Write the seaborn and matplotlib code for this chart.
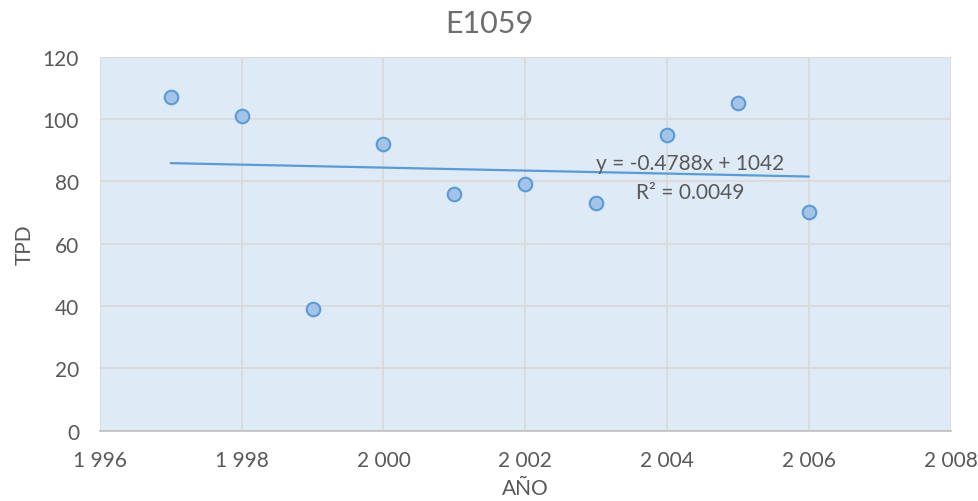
import numpy as np
import pandas as pd
import matplotlib
matplotlib.use("Agg")
import matplotlib.pyplot as plt
import seaborn as sns
from matplotlib.ticker import FuncFormatter

# Annual TPD observations
years = [1997, 1998, 1999, 2000, 2001, 2002, 2003, 2004, 2005, 2006]
tpd = [107, 101, 39, 92, 76, 79, 73, 95, 105, 70]

# Linear trend as reported on the chart
slope = -0.4788
intercept = 1042
r_squared = 0.0049

x_ticks = [1996, 1998, 2000, 2002, 2004, 2006, 2008]
y_ticks = [0, 20, 40, 60, 80, 100, 120]

sns.set_theme(style="white")
plt.rcParams["font.family"] = ["Lato", "DejaVu Sans"]

text_color = "#595959"
grid_color = "#D9D9D9"
line_blue = "#5B9BD5"

df = pd.DataFrame({"AÑO": years, "TPD": tpd})
trend = pd.DataFrame({"AÑO": [years[0], years[-1]]})
trend["TPD"] = slope * trend["AÑO"] + intercept

fig = plt.figure(figsize=(9.79, 5.02), dpi=100)
ax = fig.add_axes([0.102, 0.1404, 0.869, 0.7446])
ax.set_facecolor("#DEEAF6")

sns.lineplot(data=trend, x="AÑO", y="TPD", ax=ax, color=line_blue, linewidth=1.6, zorder=2)
sns.scatterplot(data=df, x="AÑO", y="TPD", ax=ax, s=95, color="#A3C4E8",
                edgecolor=line_blue, linewidth=1.5, zorder=3)

ax.set_xlim(1996, 2008)
ax.set_ylim(0, 120)
ax.set_xticks(x_ticks)
ax.set_yticks(y_ticks)
ax.xaxis.set_major_formatter(FuncFormatter(lambda v, p: f"{int(v):,}".replace(",", " ")))
ax.grid(True, color=grid_color, linewidth=1.2)
ax.set_axisbelow(True)
for side in ["top", "right", "left"]:
    ax.spines[side].set_visible(False)
ax.spines["bottom"].set_color("#BFBFBF")
ax.spines["bottom"].set_linewidth(1.2)
ax.tick_params(axis="x", length=0, labelsize=15, labelcolor=text_color, pad=14)
ax.tick_params(axis="y", length=0, labelsize=15, labelcolor=text_color, pad=15)

ax.set_xlabel("AÑO", fontsize=15, color=text_color, labelpad=6)
ax.set_ylabel("TPD", fontsize=15, color=text_color, labelpad=6)
fig.text(0.5, 1 - 24 / 502, "E1059", ha="center", va="center",
         fontsize=22, color="#6E6E6E")

ax.text(2004.32, 85.9, f"y = {slope}x + {intercept}", ha="center", va="center",
        fontsize=15, color=text_color, zorder=4)
ax.text(2004.32, 76.6, f"R² = {r_squared}", ha="center", va="center",
        fontsize=15, color=text_color, zorder=4)

fig.savefig("out.png", dpi=100)
